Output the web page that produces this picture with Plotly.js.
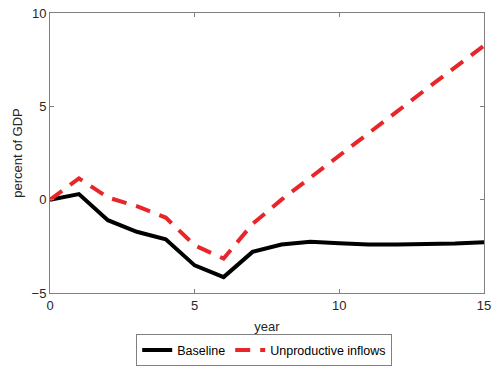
<!DOCTYPE html>
<html>
<head>
<meta charset="utf-8">
<script src="https://cdn.plot.ly/plotly-3.0.1.min.js"></script>
<style>html,body{margin:0;padding:0;background:#fff;}</style>
</head>
<body>
<div id="chart" style="width:492px;height:367px;"></div>
<script>
const years = [0,1,2,3,4,5,6,7,8,9,10,11,12,13,14,15];
const baseline = [0,0.3,-1.1,-1.72,-2.12,-3.52,-4.15,-2.8,-2.4,-2.25,-2.33,-2.4,-2.4,-2.38,-2.35,-2.28];
const unproductive = [0,1.14,0.12,-0.35,-0.96,-2.45,-3.16,-1.3,0.0,1.17,2.35,3.54,4.73,5.92,7.1,8.25];
const seriesNames = ["Baseline","Unproductive inflows"];
const xTicks = [0,5,10,15];
const yTicks = [-5,0,5,10];

const font = {family: "Liberation Sans, Arial, sans-serif", size: 13, color: "#262626"};
const traces = [
  {x: years, y: baseline, name: seriesNames[0], type: "scatter", mode: "lines",
   line: {color: "#000000", width: 4}},
  {x: years, y: unproductive, name: seriesNames[1], type: "scatter", mode: "lines",
   line: {color: "#e8262a", width: 4, dash: "15px,10px"}}
];
const axisBase = {showgrid: false, zeroline: false, showline: true, linecolor: "#808080", linewidth: 1,
  mirror: "ticks", ticks: "inside", ticklen: 4, tickcolor: "#808080", tickfont: font, automargin: false};
const layout = {
  width: 492, height: 367,
  margin: {l: 50, r: 8, t: 13, b: 74},
  paper_bgcolor: "#fff", plot_bgcolor: "#fff",
  font: font,
  showlegend: true,
  xaxis: Object.assign({}, axisBase, {range: [0,15], tickvals: xTicks,
    title: {text: "year", font: font, standoff: 10}}),
  yaxis: Object.assign({}, axisBase, {range: [-5,10], tickvals: yTicks,
    title: {text: "percent of GDP", font: font, standoff: 6}}),
  legend: {orientation: "h", x: 0.537, xanchor: "center", xref: "container",
    y: 0.002, yanchor: "bottom", yref: "container",
    bordercolor: "#808080", borderwidth: 1, font: {family: font.family, size: 12.5, color: "#000"},
    itemwidth: 30, tracegroupgap: 0, valign: "middle"}
};
Plotly.newPlot("chart", traces, layout, {displayModeBar: false, staticPlot: true});
</script>
</body>
</html>
